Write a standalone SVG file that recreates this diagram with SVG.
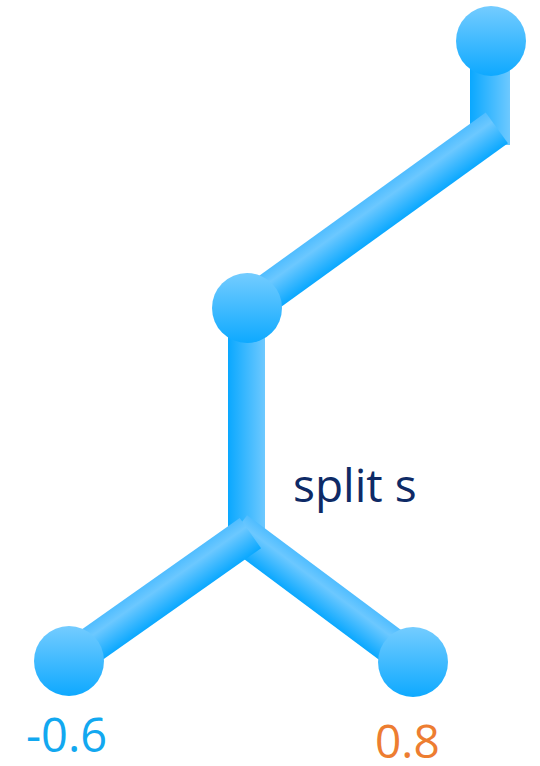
<svg xmlns="http://www.w3.org/2000/svg" width="540" height="766" viewBox="0 0 540 766">
<defs>
<linearGradient id="gNode" x1="0" y1="0" x2="0" y2="1">
<stop offset="0" stop-color="#74ccff"/>
<stop offset="1" stop-color="#0ea9ff"/>
</linearGradient>
<linearGradient id="gV" x1="0" y1="0" x2="1" y2="0">
<stop offset="0" stop-color="#0aa8ff"/>
<stop offset="1" stop-color="#6ec9ff"/>
</linearGradient>
<linearGradient id="gD" x1="0" y1="0" x2="0" y2="1">
<stop offset="0" stop-color="#50bdff"/>
<stop offset="0.3" stop-color="#6cc8ff"/>
<stop offset="1" stop-color="#0aa8ff"/>
</linearGradient>
<style>
.node{fill:url(#gNode);}
.vbar{fill:url(#gV);}
.dbar{fill:url(#gD);}
.t{font-family:"Open Sans","Noto Sans",sans-serif;}
</style>
</defs>
<g id="connectors">
<rect class="vbar" x="470" y="41" width="40" height="104"/>
<rect class="vbar" x="228" y="308" width="37" height="230"/>
<rect class="dbar" x="0" y="-19" width="308" height="38" transform="translate(247,308) rotate(-35.8)"/>
<rect class="dbar" x="0" y="-18.5" width="221" height="37" transform="translate(236,530) rotate(36.7)"/>
<rect class="dbar" x="0" y="-18.5" width="222" height="37" transform="translate(69,661) rotate(-35.2)"/>
</g>
<g id="n-top"><circle class="node" cx="491" cy="41" r="35"/></g>
<g id="n-mid"><circle class="node" cx="247" cy="308" r="35"/></g>
<g id="n-left"><circle class="node" cx="69" cy="661" r="35"/></g>
<g id="n-right"><circle class="node" cx="413" cy="662" r="35"/></g>
<g id="labels">
<text class="t" x="293" y="502" font-size="46" fill="#0e2a66">split s</text>
<text class="t" x="26" y="752" font-size="47" fill="#12a8f0">-0.6</text>
<text class="t" x="375" y="758" font-size="46" fill="#ed7d31">0.8</text>
</g>
</svg>
